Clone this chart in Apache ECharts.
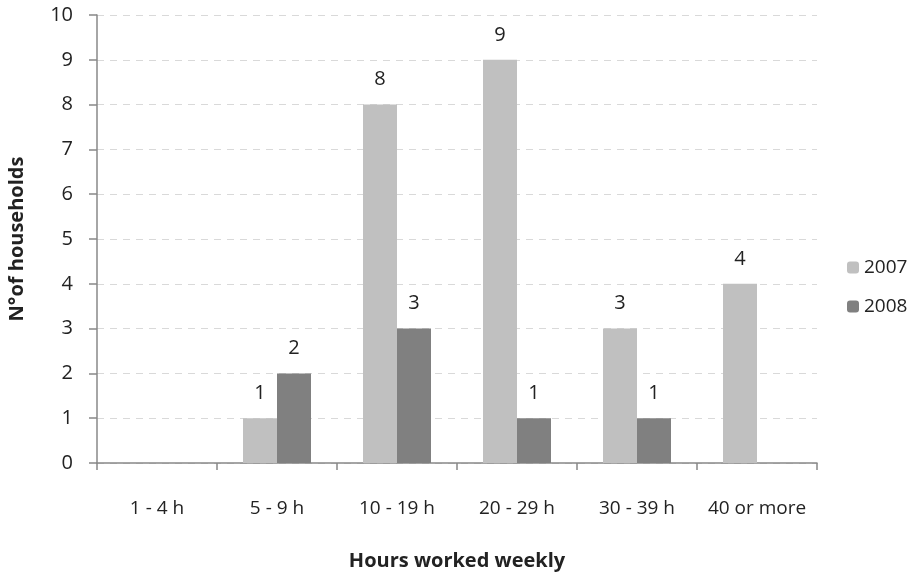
<!DOCTYPE html>
<html><head><meta charset="utf-8">
<script src="https://cdn.jsdelivr.net/npm/echarts@6/dist/echarts.min.js"></script>
<style>html,body{margin:0;padding:0;background:#fff}#c{width:918px;height:576px}</style>
</head><body><div id="c"></div>
<script>
const categories = ['1 - 4 h', '5 - 9 h', '10 - 19 h', '20 - 29 h', '30 - 39 h', '40 or more'];
const values2007 = [0, 1, 8, 9, 3, 4];
const values2008 = [0, 2, 3, 1, 1, 0];
const seriesNames = ['2007', '2008'];
const font = '"Open Sans", sans-serif';
const chart = echarts.init(document.getElementById('c'));
const lbl = {show: true, position: 'top', distance: 15, fontSize: 20, color: '#222', fontFamily: font,
  formatter: p => p.value === 0 ? '' : p.value};
chart.setOption({
  animation: false,
  grid: {left: 97, right: 101, top: 15, bottom: 113, outerBoundsMode: 'none', containLabel: false},
  legend: {orient: 'vertical', left: 842, top: 253, itemWidth: 12, itemHeight: 12, itemGap: 20,
    textStyle: {fontSize: 19, color: '#222', fontFamily: font},
    data: seriesNames},
  xAxis: {type: 'category', data: categories,
    name: 'Hours worked weekly', nameLocation: 'middle', nameGap: 88,
    nameTextStyle: {fontSize: 20, fontWeight: 'bold', color: '#222', fontFamily: font},
    axisLine: {lineStyle: {color: '#888', width: 1.5}},
    axisTick: {show: true, interval: 0, length: 7, lineStyle: {color: '#888', width: 1.5}},
    axisLabel: {interval: 0, fontSize: 19, color: '#222', margin: 36, fontFamily: font}},
  yAxis: {type: 'value', min: 0, max: 10, interval: 1,
    name: 'N°of households', nameLocation: 'middle', nameGap: 70,
    nameTextStyle: {fontSize: 20, fontWeight: 'bold', color: '#222', fontFamily: font},
    axisLine: {show: true, lineStyle: {color: '#888', width: 1.5}},
    axisTick: {show: true, length: 8, lineStyle: {color: '#888', width: 1.5}},
    axisLabel: {fontSize: 20, color: '#222', margin: 24, fontFamily: font},
    splitLine: {lineStyle: {color: '#d9d9d9', type: [7, 6], width: 1.2}}},
  series: [
    {name: seriesNames[0], type: 'bar', data: values2007, barWidth: 34, barGap: '0%',
      itemStyle: {color: '#c0c0c0'}, label: lbl},
    {name: seriesNames[1], type: 'bar', data: values2008, barWidth: 34, barGap: '0%',
      itemStyle: {color: '#808080'}, label: lbl}
  ]
});
</script></body></html>
